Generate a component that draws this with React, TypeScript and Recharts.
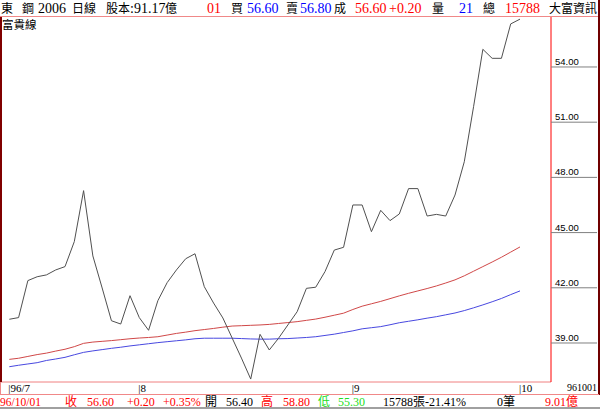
import React from "react";
import { LineChart, Line, XAxis, YAxis } from "recharts";

// Daily closes (富貴線 main line)
const closes = [
  40.29, 40.38, 42.39, 42.6, 42.7, 42.97, 43.15, 44.51, 47.28, 43.73,
  41.99, 40.21, 40.03, 41.57, 40.38, 39.69, 41.3, 42.28, 42.97, 43.58,
  43.85, 42.06, 41.17, 40.36, 39.27, 38.18, 37.04, 39.47, 38.62, 39.26,
  39.98, 40.7, 41.97, 42.03, 42.88, 44.05, 44.2, 46.5, 46.5, 45.05,
  46.21, 45.65, 46.01, 47.39, 47.39, 45.9, 45.99, 45.9, 47.04, 48.85,
  51.84, 54.96, 54.47, 54.47, 56.34, 56.6,
];

// Red moving average
const maRed = [
  38.11, 38.17, 38.27, 38.37, 38.45, 38.56, 38.66, 38.8, 38.98, 39.05,
  39.09, 39.13, 39.18, 39.23, 39.27, 39.3, 39.34, 39.43, 39.52, 39.59,
  39.67, 39.73, 39.79, 39.86, 39.92, 39.94, 39.96, 39.98, 40.01, 40.06,
  40.11, 40.16, 40.23, 40.3, 40.4, 40.51, 40.62, 40.82, 41.0, 41.13,
  41.26, 41.41, 41.56, 41.7, 41.83, 41.96, 42.1, 42.26, 42.43, 42.65,
  42.9, 43.15, 43.4, 43.66, 43.94, 44.22,
];

// Blue moving average
const maBlue = [
  37.71, 37.79, 37.86, 37.93, 38.05, 38.13, 38.22, 38.36, 38.49, 38.57,
  38.64, 38.71, 38.77, 38.84, 38.9, 38.96, 39.02, 39.07, 39.12, 39.17,
  39.23, 39.26, 39.26, 39.26, 39.26, 39.24, 39.22, 39.21, 39.21, 39.23,
  39.24, 39.27, 39.3, 39.34, 39.41, 39.48, 39.57, 39.66, 39.77, 39.83,
  39.89, 39.99, 40.1, 40.18, 40.26, 40.35, 40.43, 40.53, 40.63, 40.76,
  40.91, 41.07, 41.24, 41.42, 41.63, 41.83,
];

// Month marks on the x axis (trading-day index where a month starts)
const monthStartIdx = [0, 14, 37, 55];
const monthLabels = ["96/7", "8", "9", "10"];
const lastDateLabel = "961001";

const yTicks = [39, 42, 45, 48, 51, 54];
const yDomain = [36.88, 56.77];

const rows = closes.map((c, i) => ({
  day: i,
  close: c,
  maRed: maRed[i],
  maBlue: maBlue[i],
}));

const SERIF = "'Liberation Serif', 'Times New Roman', 'Noto Sans CJK TC', serif";
const CJK = "'Noto Sans CJK TC', 'Noto Sans CJK SC', sans-serif";

const XTick = (props: any) => {
  const { x, payload } = props;
  const k = monthStartIdx.indexOf(payload.value);
  if (k < 0) return <g />;
  return (
    <text x={x - 1} y={391.5} fontSize={11} fontFamily={SERIF} fill="#000">
      {"|" + monthLabels[k]}
    </text>
  );
};

const YTick = (props: any) => {
  const { y, payload } = props;
  return (
    <g>
      <line x1={551} x2={597} y1={y} y2={y} stroke="#808080" strokeWidth={1} />
      <text
        x={555}
        y={y - 2}
        fontSize={9.5}
        fontFamily="'Liberation Sans', Arial, sans-serif"
        fill="#000"
      >
        {Number(payload.value).toFixed(2)}
      </text>
    </g>
  );
};

const T = ({ x, y, c = "#000", s = 14, cjk = false, children, anchor }: any) => (
  <text
    x={x}
    y={y}
    fill={c}
    fontSize={s}
    fontFamily={cjk ? CJK : SERIF}
    textAnchor={anchor || "start"}
  >
    {children}
  </text>
);

export default function App() {
  const RED = "#ff0000";
  const BLUE = "#0000ff";
  const GREEN = "#22dd22";
  const hy = 13;
  const by = 406;
  return (
    <div
      style={{
        position: "absolute",
        left: 0,
        top: 0,
        width: 600,
        height: 409,
        background: "#fff",
        overflow: "hidden",
      }}
    >
      <div style={{ position: "absolute", left: 0, top: 0 }}>
        <LineChart
          width={600}
          height={409}
          data={rows}
          margin={{ top: 16, right: 2, bottom: 15, left: 1 }}
        >
          <XAxis
            dataKey="day"
            interval={0}
            tickLine={false}
            axisLine={{ stroke: "#f08080" }}
            height={12}
            padding={{ left: 8.3, right: 31 }}
            tick={<XTick />}
          />
          <YAxis
            orientation="right"
            width={47}
            domain={yDomain}
            ticks={yTicks}
            allowDataOverflow
            tickLine={false}
            axisLine={{ stroke: "#ff0000" }}
            tick={<YTick />}
          />
          <Line dataKey="maBlue" stroke="#4848e0" strokeWidth={1} dot={false} isAnimationActive={false} />
          <Line dataKey="maRed" stroke="#d04848" strokeWidth={1} dot={false} isAnimationActive={false} />
          <Line dataKey="close" stroke="#505050" strokeWidth={1} dot={false} isAnimationActive={false} />
        </LineChart>
      </div>
      <svg
        width={600}
        height={409}
        style={{ position: "absolute", left: 0, top: 0, pointerEvents: "none" }}
      >
        {/* frame */}
        <line x1={0} x2={600} y1={16.5} y2={16.5} stroke="#f08888" />
        <rect x={0} y={17} width={2} height={365} fill="#800000" />
        <rect x={598} y={0} width={2} height={395} fill="#700000" />
        <line x1={0} x2={599} y1={394.5} y2={394.5} stroke="#f08888" />
        <line x1={0.5} x2={0.5} y1={382} y2={395} stroke="#f08888" />
        <rect x={0} y={407} width={600} height={2} fill="#a0a0a0" />

        {/* header */}
        <T x={1} y={hy} s={12} cjk>東</T>
        <T x={22} y={hy} s={12} cjk>鋼</T>
        <T x={38} y={hy}>2006</T>
        <T x={72} y={hy} s={12} cjk>日線</T>
        <T x={106} y={hy} s={12} cjk>股本</T>
        <T x={130} y={hy}>:</T>
        <T x={134} y={hy}>91.17</T>
        <T x={165} y={hy} s={12} cjk>億</T>
        <T x={207} y={hy} c={RED}>01</T>
        <T x={231} y={hy} s={12} cjk>買</T>
        <T x={247} y={hy} c={BLUE}>56.60</T>
        <T x={286} y={hy} s={12} cjk>賣</T>
        <T x={300} y={hy} c={BLUE}>56.80</T>
        <T x={334} y={hy} s={12} cjk>成</T>
        <T x={355} y={hy} c={RED}>56.60</T>
        <T x={389} y={hy} c={RED}>+0.20</T>
        <T x={432} y={hy} s={12} cjk>量</T>
        <T x={459} y={hy} c={BLUE}>21</T>
        <T x={483} y={hy} s={12} cjk>總</T>
        <T x={505} y={hy} c={RED}>15788</T>
        <T x={549} y={hy} s={12} cjk>大富資訊</T>
        <T x={2} y={29} s={11.5} cjk>富貴線</T>

        {/* x axis end label */}
        <T x={597} y={391} s={10} anchor="end">{lastDateLabel}</T>

        {/* bottom info row */}
        <T x={0} y={by} s={11.5} c={RED}>96/10/01</T>
        <T x={65} y={by} s={12} c={RED} cjk>收</T>
        <T x={87} y={by} s={12} c={RED}>56.60</T>
        <T x={127} y={by} s={12} c={RED}>+0.20</T>
        <T x={163} y={by} s={12} c={RED}>+0.35%</T>
        <T x={205} y={by} s={12} cjk>開</T>
        <T x={226} y={by} s={12}>56.40</T>
        <T x={261} y={by} s={12} c={RED} cjk>高</T>
        <T x={283} y={by} s={12} c={RED}>58.80</T>
        <T x={318} y={by} s={12} c={GREEN} cjk>低</T>
        <T x={338} y={by} s={12} c={GREEN}>55.30</T>
        <T x={383} y={by} s={12}>15788</T>
        <T x={413} y={by} s={12} cjk>張</T>
        <T x={425} y={by} s={12}>-21.41%</T>
        <T x={497} y={by} s={12}>0</T>
        <T x={503} y={by} s={12} cjk>筆</T>
        <T x={545} y={by} s={12} c={RED}>9.01</T>
        <T x={566} y={by} s={12} c={RED} cjk>億</T>
      </svg>
    </div>
  );
}
